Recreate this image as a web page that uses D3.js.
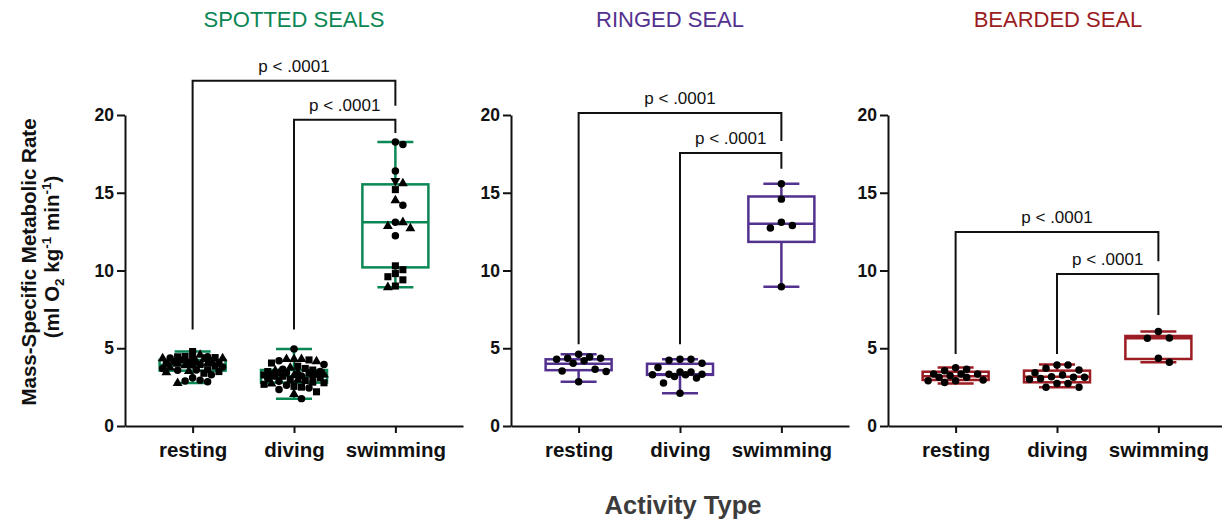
<!DOCTYPE html>
<html>
<head>
<meta charset="utf-8">
<script src="https://cdn.jsdelivr.net/npm/d3@7"></script>
<style>
  body { margin: 0; background: #fff; }
  svg { display: block; font-family: Arial, 'Liberation Sans', sans-serif; }
</style>
</head>
<body>
<div id="chart"></div>
<script>
(function() {
  'use strict';

  var activities = ['resting', 'diving', 'swimming'];
  var yTicks = [0, 5, 10, 15, 20];
  var pLabel = 'p < .0001';

  // box summaries per activity: [min, q1, median, q3, max]
  var spottedBoxes = [
    [2.76, 3.56, 3.92, 4.24, 4.79],
    [1.76, 2.79, 3.20, 3.60, 4.95],
    [8.92, 10.20, 13.10, 15.54, 18.26]
  ];
  var ringedBoxes = [
    [2.84, 3.59, 4.00, 4.29, 4.62],
    [2.11, 3.29, 3.33, 4.00, 4.29],
    [8.95, 11.84, 13.01, 14.76, 15.58]
  ];
  var beardedBoxes = [
    [2.74, 2.96, 3.20, 3.49, 3.77],
    [2.49, 2.81, 3.17, 3.56, 3.95],
    [4.10, 4.31, 5.64, 5.79, 6.07]
  ];

  // individual measurements (spotted seals: one marker shape per animal)
  var spottedResting = [4.79, 4.57, 4.47, 4.45, 4.45, 4.40, 4.38, 4.35, 4.35, 4.35,
    4.30, 4.25, 4.20, 4.15, 4.12, 4.10, 4.05, 4.03, 4.03, 4.00, 3.95, 3.92, 3.90,
    3.85, 3.80, 3.75, 3.70, 3.62, 3.60, 3.58, 3.53, 3.50, 3.45, 3.39, 3.30, 3.10,
    2.95, 2.90, 2.85, 2.76];
  var spottedRestingShape = 's^sosso^^s^oso^soo^^so^so^osoo^s^sooooo^'.split('');
  var spottedDiving = [4.95, 4.30, 4.30, 4.30, 4.25, 4.20, 4.15, 4.05, 3.95, 3.85,
    3.75, 3.70, 3.65, 3.60, 3.55, 3.50, 3.50, 3.45, 3.42, 3.40, 3.38, 3.35, 3.33,
    3.30, 3.28, 3.25, 3.22, 3.20, 3.20, 3.15, 3.10, 3.05, 3.00, 2.97, 2.92, 2.88,
    2.82, 2.78, 2.72, 2.68, 2.62, 2.55, 2.50, 2.45, 2.35, 2.20, 2.05, 1.76];
  var spottedDivingShape = 'o^^^so^sos^sos^os^os^oo^s^oso^sos^soss^sossoos^o'.split('');
  var spottedSwimming = [18.26, 18.10, 16.40, 15.77, 15.60, 15.20, 14.50, 14.20,
    13.10, 13.10, 12.85, 12.70, 12.24, 10.30, 10.05, 9.80, 9.60, 9.40, 9.00, 8.92];
  var spottedSwimmingShape = 'ooov^s^oo^^^ossssss^'.split('');

  var ringedResting = [4.62, 4.44, 4.36, 4.36, 4.29, 4.19, 4.04, 3.65, 3.54, 3.50, 2.84];
  var ringedDiving = [4.29, 4.29, 4.23, 4.04, 3.76, 3.48, 3.48, 3.33, 3.33, 3.29,
    3.29, 3.19, 3.08, 2.76, 2.11];
  var ringedSwimming = [15.58, 14.59, 13.10, 12.90, 12.74, 8.95];

  var beardedResting = [3.75, 3.65, 3.56, 3.34, 3.34, 3.34, 3.23, 3.13, 3.13, 2.96,
    2.91, 2.91, 2.79];
  var beardedDiving = [3.92, 3.92, 3.71, 3.60, 3.43, 3.28, 3.17, 3.13, 3.13, 3.06,
    3.00, 2.74, 2.74, 2.49, 2.49];
  var beardedSwimming = [6.07, 5.66, 5.64, 4.35, 4.10];

  // comparisons: [from, to, bar height, left leg end, right leg end]
  var spottedBrackets = [[0, 2, 22.2, 6.2, 20.6], [1, 2, 19.7, 6.2, 18.85]];
  var ringedBrackets = [[0, 2, 20.13, 5.26, 18.33], [1, 2, 17.56, 5.26, 16.54]];
  var beardedBrackets = [[0, 2, 12.48, 4.63, 10.6], [1, 2, 9.77, 4.63, 7.14]];

  var panels = [
    {
      title: 'SPOTTED SEALS', color: '#0b8754', left: 125, titleX: 294, spacing: 7.5,
      boxes: spottedBoxes, brackets: spottedBrackets,
      points: [spottedResting, spottedDiving, spottedSwimming],
      shapes: [spottedRestingShape, spottedDivingShape, spottedSwimmingShape]
    },
    {
      title: 'RINGED SEAL', color: '#52318f', left: 511, titleX: 670, spacing: 11,
      boxes: ringedBoxes, brackets: ringedBrackets,
      points: [ringedResting, ringedDiving, ringedSwimming]
    },
    {
      title: 'BEARDED SEAL', color: '#9b1d23', left: 888, titleX: 1058, spacing: 11,
      boxes: beardedBoxes, brackets: beardedBrackets,
      points: [beardedResting, beardedDiving, beardedSwimming]
    }
  ];

  var width = 1222,
      height = 521,
      plotWidth = 338,
      plotTop = 115,
      plotBottom = 426,
      boxWidth = 66,
      capWidth = 36,
      spread = 30;

  var svg = d3.select('#chart')
    .append('svg')
      .attr('width', width)
      .attr('height', height);

  var symbols = {
    o: d3.symbol().type(d3.symbolCircle).size(44),
    s: d3.symbol().type(d3.symbolSquare).size(50),
    '^': d3.symbol().type(d3.symbolTriangle).size(42),
    v: d3.symbol().type(d3.symbolTriangle).size(42)
  };

  // beeswarm kept inside the box: take the nearest free slot,
  // or the least crowded one when the row is full
  function swarm(values, y, spacing) {
    var placed = [];
    var offsets = [];
    var step = spacing / 2;
    var order = d3.range(values.length).sort(function(a, b) {
      return values[b] - values[a];
    });
    order.forEach(function(i) {
      var py = y(values[i]);
      var best = 0, bestDist = -1;
      for (var k = 0; k < 80; k++) {
        var dx = (k % 2 ? 1 : -1) * Math.ceil(k / 2) * step;
        if (Math.abs(dx) > spread) break;
        var minDist = d3.min(placed, function(p) {
          return Math.hypot(p.dx - dx, p.y - py);
        });
        if (minDist === undefined || minDist >= spacing) { best = dx; break; }
        if (minDist > bestDist) { bestDist = minDist; best = dx; }
      }
      placed.push({dx: best, y: py});
      offsets[i] = best;
    });
    return offsets;
  }

  function drawPanel(cfg) {
    var g = svg.append('g');

    var x = d3.scalePoint()
      .domain(activities)
      .range([cfg.left, cfg.left + plotWidth])
      .padding(0.667);

    var y = d3.scaleLinear()
      .domain([0, 20])
      .range([plotBottom, plotTop]);

    // title
    g.append('text')
      .attr('x', cfg.titleX)
      .attr('y', 27)
      .attr('text-anchor', 'middle')
      .style('font-size', '22px')
      .style('fill', cfg.color)
      .text(cfg.title);

    // axes
    var yAxis = g.append('g')
      .attr('transform', 'translate(' + cfg.left + ',0)')
      .call(d3.axisLeft(y).tickValues(yTicks).tickSize(8).tickSizeOuter(0).tickPadding(3));
    var xAxis = g.append('g')
      .attr('transform', 'translate(0,' + plotBottom + ')')
      .call(d3.axisBottom(x).tickSize(7).tickSizeOuter(0).tickPadding(9));

    [yAxis, xAxis].forEach(function(a) {
      a.select('.domain').attr('stroke', '#111').attr('stroke-width', 2);
      a.selectAll('.tick line').attr('stroke', '#111').attr('stroke-width', 2);
      a.selectAll('.tick text')
        .attr('fill', '#111')
        .style('font-family', 'Arial, "Liberation Sans", sans-serif')
        .style('font-weight', 'bold');
    });
    yAxis.selectAll('.tick text').style('font-size', '17.5px');
    xAxis.selectAll('.tick text').style('font-size', '20.5px');

    // boxes
    cfg.boxes.forEach(function(b, i) {
      var cx = x(activities[i]);
      var bg = g.append('g')
        .attr('fill', 'none')
        .attr('stroke', cfg.color)
        .attr('stroke-width', 2.5);
      bg.append('rect')
        .attr('x', cx - boxWidth / 2)
        .attr('y', y(b[3]))
        .attr('width', boxWidth)
        .attr('height', y(b[1]) - y(b[3]));
      bg.append('line')
        .attr('x1', cx - boxWidth / 2).attr('x2', cx + boxWidth / 2)
        .attr('y1', y(b[2])).attr('y2', y(b[2]));
      bg.append('line')
        .attr('x1', cx).attr('x2', cx)
        .attr('y1', y(b[4])).attr('y2', y(b[3]));
      bg.append('line')
        .attr('x1', cx).attr('x2', cx)
        .attr('y1', y(b[1])).attr('y2', y(b[0]));
      [b[0], b[4]].forEach(function(v) {
        bg.append('line')
          .attr('x1', cx - capWidth / 2).attr('x2', cx + capWidth / 2)
          .attr('y1', y(v)).attr('y2', y(v));
      });
    });

    // points
    cfg.points.forEach(function(vals, i) {
      var cx = x(activities[i]);
      var offsets = swarm(vals, y, cfg.spacing);
      var shapes = cfg.shapes ? cfg.shapes[i] : [];
      g.append('g')
        .selectAll('path')
        .data(vals)
        .join('path')
          .attr('d', function(d, j) { return (symbols[shapes[j]] || symbols.o)(); })
          .attr('transform', function(d, j) {
            var t = 'translate(' + (cx + offsets[j]) + ',' + y(d) + ')';
            return shapes[j] === 'v' ? t + ' rotate(180)' : t;
          })
          .attr('fill', '#000');
    });

    // significance brackets
    cfg.brackets.forEach(function(br) {
      var x1 = x(activities[br[0]]),
          x2 = x(activities[br[1]]);
      g.append('path')
        .attr('d', 'M' + x1 + ',' + y(br[3]) + 'V' + y(br[2]) + 'H' + x2 + 'V' + y(br[4]))
        .attr('fill', 'none')
        .attr('stroke', '#111')
        .attr('stroke-width', 2);
      g.append('text')
        .attr('x', (x1 + x2) / 2)
        .attr('y', y(br[2]) - 9)
        .attr('text-anchor', 'middle')
        .style('font-size', '17px')
        .style('fill', '#111')
        .text(pLabel);
    });
  }

  panels.forEach(drawPanel);

  // shared y label
  var yLabel = svg.append('g')
    .style('font-weight', 'bold')
    .style('font-size', '20.5px')
    .style('fill', '#111');
  yLabel.append('text')
    .attr('transform', 'translate(36,262) rotate(-90)')
    .attr('text-anchor', 'middle')
    .text('Mass-Specific Metabolic Rate');
  var unit = yLabel.append('text')
    .attr('transform', 'translate(59,257) rotate(-90)')
    .attr('text-anchor', 'middle');
  unit.append('tspan').text('(ml O');
  unit.append('tspan').attr('dy', 5).style('font-size', '13.5px').text('2');
  unit.append('tspan').attr('dy', -5).text(' kg');
  unit.append('tspan').attr('dy', -8).style('font-size', '13.5px').text('-1');
  unit.append('tspan').attr('dy', 8).text(' min');
  unit.append('tspan').attr('dy', -8).style('font-size', '13.5px').text('-1');
  unit.append('tspan').attr('dy', 8).text(')');

  // shared x label
  svg.append('text')
    .attr('x', 683)
    .attr('y', 514)
    .attr('text-anchor', 'middle')
    .style('font-weight', 'bold')
    .style('font-size', '25.5px')
    .style('fill', '#3c3c3c')
    .text('Activity Type');
})();
</script>
</body>
</html>
